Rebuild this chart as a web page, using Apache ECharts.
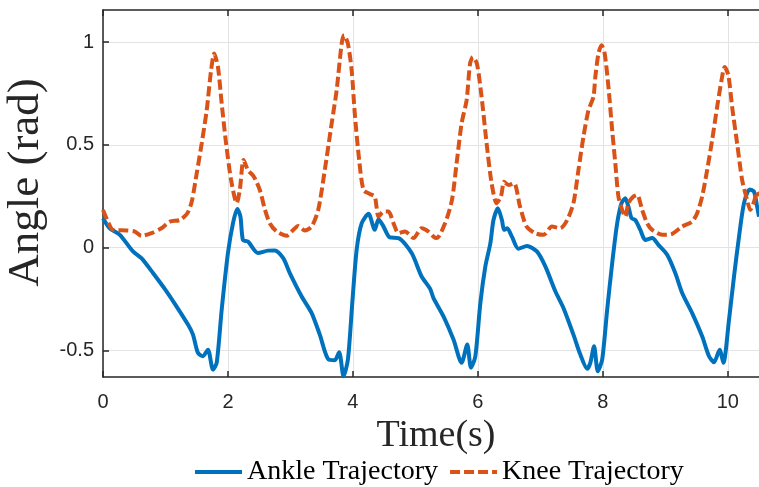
<!DOCTYPE html>
<html>
<head>
<meta charset="utf-8">
<script src="https://cdn.jsdelivr.net/npm/echarts@6/dist/echarts.min.js"></script>
<style>
html,body{margin:0;padding:0;background:#fff;}
#chart{width:759px;height:487px;}
</style>
</head>
<body>
<div id="chart"></div>
<script>
var xTicks = [0, 2, 4, 6, 8, 10];
var yTicks = [-0.5, 0, 0.5, 1];

var ankleT = [0, 0.107, 0.27, 0.48, 0.615, 0.80, 1.016, 1.176, 1.36, 1.44, 1.52, 1.60, 1.68, 1.76, 1.82, 1.90, 2.00, 2.08, 2.15, 2.20, 2.24, 2.32, 2.48, 2.64, 2.75, 2.885, 2.99, 3.18, 3.34, 3.47, 3.61, 3.71, 3.78, 3.85, 3.92, 3.99, 4.06, 4.14, 4.25, 4.35, 4.41, 4.49, 4.59, 4.73, 4.94, 5.10, 5.235, 5.29, 5.45, 5.61, 5.74, 5.83, 5.89, 5.96, 6.04, 6.12, 6.20, 6.25, 6.32, 6.385, 6.42, 6.47, 6.545, 6.65, 6.785, 6.945, 7.08, 7.24, 7.37, 7.53, 7.64, 7.75, 7.80, 7.86, 7.92, 7.99, 8.07, 8.15, 8.23, 8.30, 8.36, 8.41, 8.46, 8.52, 8.60, 8.68, 8.79, 8.89, 9.03, 9.16, 9.27, 9.43, 9.59, 9.70, 9.78, 9.87, 9.93, 10.02, 10.10, 10.18, 10.26, 10.35, 10.42, 10.47, 10.50];
var ankleV = [0.143, 0.094, 0.062, -0.019, -0.052, -0.124, -0.213, -0.286, -0.375, -0.424, -0.513, -0.529, -0.497, -0.594, -0.561, -0.302, -0.027, 0.118, 0.188, 0.15, 0.037, 0.029, -0.027, -0.015, -0.014, -0.052, -0.124, -0.238, -0.319, -0.424, -0.545, -0.548, -0.51, -0.626, -0.545, -0.27, -0.011, 0.118, 0.164, 0.086, 0.138, 0.102, 0.049, 0.046, -0.027, -0.141, -0.2, -0.246, -0.335, -0.448, -0.561, -0.472, -0.585, -0.529, -0.27, -0.092, 0.021, 0.134, 0.191, 0.134, 0.086, 0.094, 0.053, -0.006, 0.008, -0.019, -0.092, -0.213, -0.294, -0.424, -0.521, -0.59, -0.561, -0.48, -0.602, -0.545, -0.302, -0.076, 0.118, 0.216, 0.24, 0.199, 0.143, 0.134, 0.086, 0.037, 0.046, 0.013, -0.035, -0.124, -0.221, -0.319, -0.432, -0.529, -0.558, -0.497, -0.561, -0.351, -0.141, 0.053, 0.216, 0.283, 0.272, 0.199, 0.15];

var kneeT = [0, 0.08, 0.16, 0.375, 0.51, 0.615, 0.775, 0.935, 1.07, 1.23, 1.35, 1.42, 1.50, 1.58, 1.66, 1.73, 1.78, 1.84, 1.90, 1.97, 2.05, 2.14, 2.19, 2.25, 2.32, 2.415, 2.51, 2.59, 2.67, 2.78, 2.94, 3.02, 3.125, 3.23, 3.34, 3.445, 3.55, 3.66, 3.74, 3.82, 3.86, 3.92, 3.98, 4.03, 4.10, 4.17, 4.27, 4.35, 4.41, 4.49, 4.57, 4.65, 4.73, 4.835, 4.97, 5.10, 5.21, 5.29, 5.34, 5.475, 5.585, 5.66, 5.74, 5.82, 5.875, 5.92, 5.985, 6.06, 6.14, 6.22, 6.30, 6.37, 6.42, 6.49, 6.58, 6.675, 6.78, 6.915, 7.05, 7.185, 7.32, 7.43, 7.53, 7.61, 7.69, 7.77, 7.85, 7.88, 7.93, 7.98, 8.03, 8.09, 8.15, 8.20, 8.25, 8.31, 8.36, 8.41, 8.49, 8.55, 8.63, 8.71, 8.79, 8.95, 9.11, 9.27, 9.43, 9.51, 9.59, 9.67, 9.75, 9.83, 9.90, 9.95, 10.01, 10.07, 10.15, 10.23, 10.31, 10.36, 10.42, 10.47, 10.50];
var kneeV = [0.183, 0.126, 0.086, 0.083, 0.078, 0.057, 0.07, 0.094, 0.126, 0.134, 0.167, 0.223, 0.361, 0.507, 0.668, 0.863, 0.944, 0.879, 0.70, 0.507, 0.329, 0.216, 0.28, 0.426, 0.377, 0.345, 0.28, 0.187, 0.118, 0.078, 0.057, 0.078, 0.105, 0.083, 0.102, 0.183, 0.377, 0.604, 0.766, 0.992, 1.033, 0.992, 0.863, 0.652, 0.426, 0.28, 0.261, 0.248, 0.15, 0.175, 0.175, 0.118, 0.07, 0.078, 0.046, 0.094, 0.078, 0.053, 0.046, 0.118, 0.231, 0.41, 0.604, 0.717, 0.895, 0.927, 0.895, 0.733, 0.507, 0.313, 0.216, 0.248, 0.32, 0.304, 0.313, 0.199, 0.102, 0.07, 0.062, 0.102, 0.094, 0.134, 0.216, 0.377, 0.539, 0.668, 0.733, 0.83, 0.944, 0.984, 0.944, 0.782, 0.571, 0.41, 0.248, 0.183, 0.15, 0.216, 0.248, 0.256, 0.183, 0.118, 0.086, 0.062, 0.067, 0.102, 0.126, 0.167, 0.248, 0.377, 0.523, 0.684, 0.814, 0.879, 0.838, 0.684, 0.507, 0.329, 0.231, 0.183, 0.223, 0.272, 0.25];

function pairs(t, v) { return t.map(function (x, i) { return [x, v[i]]; }); }

var axisCol = '#262626';
var serif = '"Liberation Serif", "DejaVu Serif", serif';
var sans = '"Liberation Sans", Arial, sans-serif';

var chart = echarts.init(document.getElementById('chart'), null, {renderer: 'canvas'});
chart.setOption({
  animation: false,
  backgroundColor: '#fff',
  grid: {left: 103, right: 0, top: 10, bottom: 110, containLabel: false, outerBoundsMode: 'none'},
  legend: {
    bottom: 1, left: 193, padding: 0,
    itemWidth: 47, itemHeight: 14, itemGap: 10,
    itemStyle: {opacity: 0},
    lineStyle: {width: 4},
    textStyle: {fontFamily: serif, fontSize: 28, color: '#000'},
    data: ['Ankle Trajectory', 'Knee Trajectory']
  },
  xAxis: [{
    type: 'value', min: 0, max: 10.5, position: 'bottom',
    name: 'Time(s)', nameLocation: 'middle', nameGap: 40,
    nameTextStyle: {fontFamily: serif, fontSize: 38, color: '#262626', padding: [0, 0, 0, 10]},
    axisLine: {show: true, onZero: false, lineStyle: {color: axisCol, width: 1.5}},
    axisTick: {show: true, inside: true, length: 6, customValues: xTicks, lineStyle: {color: axisCol, width: 1.5}},
    axisLabel: {customValues: xTicks, margin: 15, fontFamily: sans, fontSize: 20, color: '#262626'},
    splitLine: {show: true, lineStyle: {color: '#e3e3e3', width: 1}}
  }, {
    type: 'value', min: 0, max: 10.5, position: 'top',
    axisLine: {show: true, onZero: false, lineStyle: {color: axisCol, width: 1.5}},
    axisTick: {show: true, inside: true, length: 6, customValues: xTicks, lineStyle: {color: axisCol, width: 1.5}},
    axisLabel: {show: false},
    splitLine: {show: false}
  }],
  yAxis: [{
    type: 'value', min: -0.63, max: 1.156,
    name: 'Angle (rad)', nameLocation: 'middle', nameGap: 47, nameRotate: 90,
    nameTextStyle: {fontFamily: serif, fontSize: 45, color: '#262626', padding: [0, 0, 0, 22]},
    axisLine: {show: true, onZero: false, lineStyle: {color: axisCol, width: 1.5}},
    axisTick: {show: true, inside: true, length: 6, customValues: yTicks, lineStyle: {color: axisCol, width: 1.5}},
    axisLabel: {customValues: yTicks, margin: 9, fontFamily: sans, fontSize: 20, color: '#262626'},
    splitLine: {show: true, lineStyle: {color: '#e3e3e3', width: 1}}
  }],
  series: [{
    name: 'Ankle Trajectory', type: 'line', xAxisIndex: 0, yAxisIndex: 0,
    data: pairs(ankleT, ankleV), showSymbol: false, symbol: 'none', smooth: 0.25,
    lineStyle: {color: '#0072BD', width: 4},
    itemStyle: {color: '#0072BD'}
  }, {
    name: 'Knee Trajectory', type: 'line', xAxisIndex: 0, yAxisIndex: 0,
    data: pairs(kneeT, kneeV), showSymbol: false, symbol: 'none', smooth: 0.25,
    lineStyle: {color: '#D95319', width: 4, type: [10, 4]},
    itemStyle: {color: '#D95319'}
  }]
});
</script>
</body>
</html>
